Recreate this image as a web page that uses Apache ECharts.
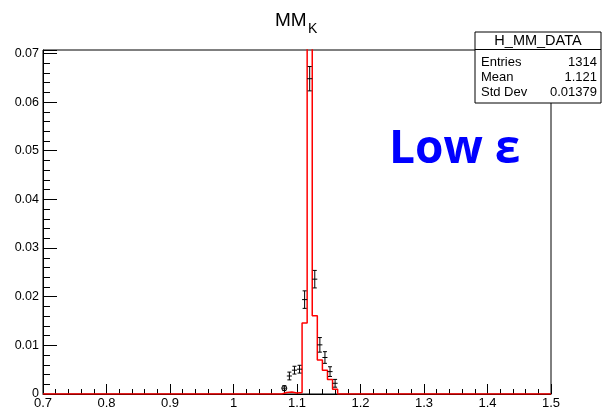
<!DOCTYPE html>
<html>
<head>
<meta charset="utf-8">
<title>MM_K</title>
<script src="https://cdn.jsdelivr.net/npm/echarts@6/dist/echarts.min.js"></script>
<style>
    html, body {
        margin: 0;
        padding: 0;
        background-color: #fff;
    }

    #main {
        width: 606px;
        height: 411px;
    }
</style>
</head>
<body>
<div id="main"></div>
<script>
    // 直方图分箱: 0.7 ~ 1.5, 每箱 0.008
    var histMin = 0.7;
    var histMax = 1.5;
    var binWidth = 0.008;

    // 红色直方图 (MC), 从第 47 箱开始, 其余为 0
    var mcFirstBin = 47;
    var mcValues = [0.0003, 0.0004, 0.0002, 0.0003, 0.0146, 0.115, 0.0161, 0.0070, 0.0049, 0.0030, 0.0010];

    // 黑色数据点 (DATA) 和误差
    var dataFirstBin = 47;
    var dataValues = [0.0012, 0.0037, 0.0049, 0.0051, 0.0194, 0.0648, 0.0236, 0.0101, 0.0075, 0.0046, 0.0022];
    var dataErrors = [0.0005, 0.0008, 0.0008, 0.0008, 0.0018, 0.0025, 0.0018, 0.0015, 0.0012, 0.0010, 0.0008];

    // 坐标轴刻度
    var xTicks = [0.7, 0.8, 0.9, 1.0, 1.1, 1.2, 1.3, 1.4, 1.5];
    var yTicks = [0, 0.01, 0.02, 0.03, 0.04, 0.05, 0.06, 0.07];
    var yMax = 0.0707;

    // 统计框
    var statsTitle = 'H_MM_DATA';
    var statsNames = ['Entries', 'Mean', 'Std Dev'];
    var statsValues = ['1314', '1.121', '0.01379'];

    var font = '"Liberation Sans", Arial, sans-serif';

    // 红色台阶折线
    var mcLine = [[histMin, 0]];
    for (var i = 0; i < mcValues.length; i++) {
        var lo = histMin + (mcFirstBin + i) * binWidth;
        mcLine.push([lo, i === 0 ? 0 : mcValues[i - 1]]);
        mcLine.push([lo, mcValues[i]]);
    }
    var mcEnd = histMin + (mcFirstBin + mcValues.length) * binWidth;
    mcLine.push([mcEnd, mcValues[mcValues.length - 1]]);
    mcLine.push([mcEnd, 0]);
    mcLine.push([histMax, 0]);

    // 数据点: [中心, 值, 误差]
    var points = [];
    for (var j = 0; j < dataValues.length; j++) {
        var c = histMin + (dataFirstBin + j + 0.5) * binWidth;
        points.push([c, dataValues[j], dataErrors[j]]);
    }

    function renderErr(params, api) {
        var x = api.value(0), y = api.value(1), e = api.value(2);
        var p = api.coord([x, y]);
        var top = api.coord([x, y + e]);
        var bot = api.coord([x, y - e]);
        var left = api.coord([x - binWidth / 2, y]);
        var right = api.coord([x + binWidth / 2, y]);
        var st = { stroke: '#000', lineWidth: 1 };
        var kids = [
            { type: 'line', shape: { x1: p[0], y1: top[1], x2: p[0], y2: bot[1] }, style: st },
            { type: 'line', shape: { x1: left[0], y1: p[1], x2: right[0], y2: p[1] }, style: st },
            { type: 'line', shape: { x1: p[0] - 2, y1: top[1], x2: p[0] + 2, y2: top[1] }, style: st },
            { type: 'line', shape: { x1: p[0] - 2, y1: bot[1], x2: p[0] + 2, y2: bot[1] }, style: st }
        ];
        // 误差很小时能看见圆点
        if (bot[1] - top[1] < 6) {
            kids.push({ type: 'circle', shape: { cx: p[0], cy: p[1], r: 2.5 }, style: { stroke: '#000', fill: 'none', lineWidth: 1 } });
        }
        return { type: 'group', children: kids };
    }

    // 统计框图形
    var boxL = 475, boxR = 601, boxT = 32, boxB = 103, sepY = 49.5;
    var statsGraphics = [
        { type: 'rect', shape: { x: boxL, y: boxT, width: boxR - boxL, height: boxB - boxT },
          style: { fill: '#fff', stroke: '#000', lineWidth: 1 }, z: 10 },
        { type: 'line', shape: { x1: boxL, y1: sepY, x2: boxR, y2: sepY },
          style: { stroke: '#000', lineWidth: 1 }, z: 11 },
        { type: 'text', x: (boxL + boxR) / 2, y: 41,
          style: { text: statsTitle, fontSize: 14.5, fontFamily: font, fill: '#000', align: 'center', verticalAlign: 'middle' }, z: 11 }
    ];
    var rowY = [62.5, 77.5, 92.5];
    for (var k = 0; k < statsNames.length; k++) {
        statsGraphics.push({ type: 'text', x: 481, y: rowY[k],
            style: { text: statsNames[k], fontSize: 13, fontFamily: font, fill: '#000', align: 'left', verticalAlign: 'middle' }, z: 11 });
        statsGraphics.push({ type: 'text', x: 597, y: rowY[k],
            style: { text: statsValues[k], fontSize: 13, fontFamily: font, fill: '#000', align: 'right', verticalAlign: 'middle' }, z: 11 });
    }

    var myChart = echarts.init(document.getElementById('main'));

    var option = {
        animation: false,
        backgroundColor: '#fff',
        grid: {
            left: 43,
            right: 55,
            top: 50,
            bottom: 17,
            show: true,
            borderColor: '#000',
            borderWidth: 1,
            backgroundColor: '#fff'
        },
        xAxis: {
            type: 'value',
            min: histMin,
            max: histMax,
            interval: 0.1,
            axisLine: { lineStyle: { color: '#000', width: 1 } },
            axisTick: { inside: true, length: 10, lineStyle: { color: '#000' } },
            minorTick: { show: true, splitNumber: 5, length: 5, lineStyle: { color: '#000' } },
            splitLine: { show: false },
            axisLabel: {
                margin: 3,
                color: '#000',
                fontSize: 13,
                fontFamily: font,
                customValues: xTicks,
                formatter: function (v) { return String(Math.round(v * 10) / 10); }
            }
        },
        yAxis: [{
            type: 'value',
            min: 0,
            max: yMax,
            interval: 0.01,
            axisLine: { show: true, lineStyle: { color: '#000', width: 1 } },
            axisTick: { inside: true, length: 14, lineStyle: { color: '#000' } },
            splitLine: { show: false },
            axisLabel: {
                margin: 4,
                color: '#000',
                fontSize: 12.5,
                fontFamily: font,
                customValues: yTicks,
                formatter: function (v) { return String(Math.round(v * 100) / 100); }
            }
        }, {
            // 次刻度
            type: 'value',
            position: 'left',
            offset: 0,
            min: 0,
            max: yMax,
            interval: 0.002,
            axisLine: { show: false },
            axisTick: { show: true, inside: true, length: 7, lineStyle: { color: '#000' } },
            axisLabel: { show: false },
            splitLine: { show: false }
        }],
        graphic: [
            { type: 'text', x: 275, y: 21, style: { text: 'MM', fontSize: 19, fontFamily: font, fill: '#000', verticalAlign: 'middle' } },
            { type: 'text', x: 308, y: 29, style: { text: 'K', fontSize: 14, fontFamily: font, fill: '#000', verticalAlign: 'middle' } },
            { type: 'text', x: 389, y: 150, style: { text: 'Low ε', fontSize: 46, fontWeight: 'bold', fontFamily: '"Open Sans", Arial, sans-serif', fill: '#0000ff', verticalAlign: 'middle' }, z: 12 }
        ].concat(statsGraphics),
        series: [{
            name: 'MC',
            type: 'line',
            data: mcLine,
            showSymbol: false,
            symbol: 'none',
            clip: true,
            lineStyle: { color: '#ff0000', width: 1.5 },
            z: 3
        }, {
            name: 'DATA',
            type: 'custom',
            renderItem: renderErr,
            data: points,
            clip: true,
            z: 4
        }]
    };

    myChart.setOption(option);
</script>
</body>
</html>
